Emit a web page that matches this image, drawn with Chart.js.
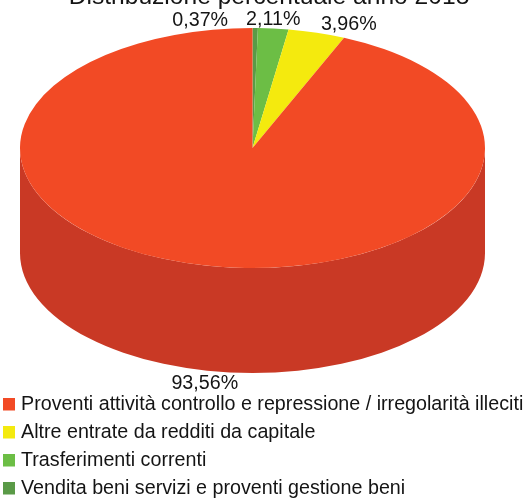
<!DOCTYPE html>
<html><head><meta charset="utf-8">
<style>html,body{margin:0;padding:0;background:#fff}canvas{display:block}</style>
<script src="https://cdn.jsdelivr.net/npm/chart.js@4"></script>
</head><body><canvas id="c" width="528" height="501"></canvas>
<script>
const titleText = "Distribuzione percentuale anno 2018";
const categories = ["Proventi attività controllo e repressione / irregolarità illeciti","Altre entrate da redditi da capitale","Trasferimenti correnti","Vendita beni servizi e proventi gestione beni"];
const values = [93.56, 3.96, 2.11, 0.37];
const valueLabels = ["93,56%","3,96%","2,11%","0,37%"];
const topColors = ["#F24A25","#F4EA0E","#6CBE45","#5A9A47"];
const sideColors = ["#C93925","#C4BC0C","#569837","#477B39"];

const CY = 148, RY = 120, DEPTH = 105, FONT = "Liberation Sans, Arial, sans-serif";
const labelOffsets = [[-1,13],[32,-8],[0,-9],[-55,-7]];
const legendRows = [404.5,432.5,460.5,488.5];
const n = values.length;

const pie3d = {
  id:'pie3d',
  beforeDatasetsDraw(chart){
    const ctx = chart.ctx, arcs = chart.getDatasetMeta(0).data;
    const cx = arcs[0].x, r = arcs[0].outerRadius, k = RY/r;
    // extruded side wall (only the lower half of each slice shows)
    arcs.forEach((a,j)=>{
      const ranges = [[a.startAngle,a.endAngle],[a.startAngle-2*Math.PI,a.endAngle-2*Math.PI]];
      ranges.forEach(([s,e])=>{
        const a0 = Math.max(s,0), a1 = Math.min(e,Math.PI);
        if(a1<=a0) return;
        ctx.beginPath();
        ctx.ellipse(cx,CY,r,RY,0,a0,a1);
        ctx.ellipse(cx,CY+DEPTH,r,RY,0,a1,a0,true);
        ctx.closePath();
        ctx.fillStyle = sideColors[n-1-j];
        ctx.fill();
      });
    });
    ctx.save();
    ctx.translate(0,CY); ctx.scale(1,k); ctx.translate(0,-arcs[0].y);
  },
  afterDatasetsDraw(chart){
    const ctx = chart.ctx; ctx.restore();
    const arcs = chart.getDatasetMeta(0).data;
    ctx.save();
    ctx.textBaseline='middle'; ctx.fillStyle='#141414';
    // title, cropped by the top edge as in the source
    ctx.textAlign='center';
    ctx.font='24.6px '+FONT;
    ctx.fillText(titleText,269,-3);
    // value labels
    ctx.font='19.7px '+FONT;
    arcs.forEach((a,j)=>{
      const i=n-1-j;
      const m=(a.startAngle+a.endAngle)/2, r=a.outerRadius;
      const below=Math.sin(m)>0?DEPTH:0;
      ctx.fillText(valueLabels[i],a.x+Math.cos(m)*r+labelOffsets[i][0],CY+Math.sin(m)*RY+below+labelOffsets[i][1]);
    });
    // legend
    ctx.textAlign='left';
    categories.forEach((t,i)=>{
      ctx.fillStyle=topColors[i];
      ctx.fillRect(3,legendRows[i]-6.5,12,12.5);
      ctx.fillStyle='#141414';
      ctx.fillText(t,21,legendRows[i]);
    });
    ctx.restore();
  }
};

new Chart(document.getElementById('c'),{
  type:'pie',
  data:{labels:categories.slice().reverse(),datasets:[{
    data:values.slice().reverse(),
    backgroundColor:topColors.slice().reverse(),
    borderWidth:0,clip:false
  }]},
  options:{
    responsive:false,animation:false,
    layout:{padding:{left:20,right:43,top:0,bottom:36}},
    plugins:{legend:{display:false},tooltip:{enabled:false},title:{display:false}}
  },
  plugins:[pie3d]
});
</script></body></html>
